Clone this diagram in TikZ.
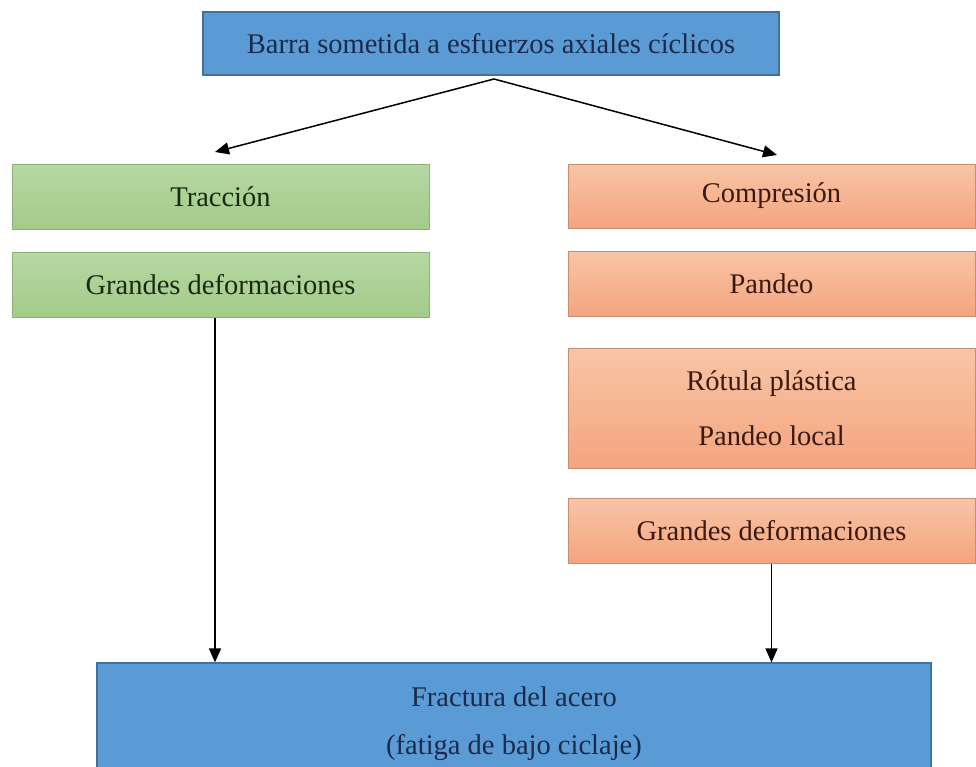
\documentclass[tikz,border=0pt]{standalone}
\usepackage{fontspec}
\setmainfont{Liberation Serif}
\usetikzlibrary{arrows.meta}
\definecolor{bluefill}{HTML}{5B9BD5}
\definecolor{blueline}{HTML}{41719C}
\definecolor{bluetext}{HTML}{1B2A4A}
\definecolor{greentop}{HTML}{B6D8A3}
\definecolor{greenbot}{HTML}{A2CB89}
\definecolor{greenline}{HTML}{8DB077}
\definecolor{greentext}{HTML}{1A2A12}
\definecolor{orangetop}{HTML}{F8C5A6}
\definecolor{orangebot}{HTML}{F4A47E}
\definecolor{orangeline}{HTML}{C98D70}
\definecolor{orangetext}{HTML}{3A1A10}
\begin{document}
\begin{tikzpicture}[x=1pt,y=1pt,
  txt/.style={font=\fontsize{28.5}{52}\selectfont, align=center, inner sep=0pt},
  bluebox/.style={txt, draw=blueline, line width=1.2pt, fill=bluefill, text=bluetext},
  greenbox/.style={txt, draw=greenline, line width=1pt, top color=greentop, bottom color=greenbot, text=greentext},
  orangebox/.style={txt, draw=orangeline, line width=1pt, top color=orangetop, bottom color=orangebot, text=orangetext},
  arr/.style={draw=black, line width=1.5pt, -{Triangle[length=14pt,width=12pt]}}]
\useasboundingbox (0,0) rectangle (976,-766);
\begin{scope}
\clip (0,0) rectangle (976,-766);
% top
\node[bluebox, minimum width=576, minimum height=63] (top) at (491,-43.5) {Barra sometida a esfuerzos axiales cíclicos};
% left column
\node[greenbox, minimum width=417, minimum height=65] (trac) at (220.5,-196.5) {Tracción};
\node[greenbox, minimum width=417, minimum height=65] (gdL) at (220.5,-284.5) {Grandes deformaciones};
% right column
\node[orangebox, minimum width=407, minimum height=64] (comp) at (771.5,-196) {Compresión};
\node[orangebox, minimum width=407, minimum height=65] (pand) at (771.5,-283.5) {Pandeo};
\node[orangebox, minimum width=407, minimum height=120, font=\fontsize{28.5}{55}\selectfont] (rot) at (771.5,-408) {Rótula plástica\\Pandeo local};
\node[orangebox, minimum width=407, minimum height=65] (gdR) at (771.5,-530.5) {Grandes deformaciones};
% bottom
\node[bluebox, minimum width=834, minimum height=122, font=\fontsize{28.5}{48}\selectfont] (frac) at (514,-724) {Fractura del acero\\(fatiga de bajo ciclaje)};
\end{scope}
% connectors
\coordinate (split) at (494,-79);
\coordinate (tipL) at (215,-152);
\coordinate (tipR) at (777,-155);
\coordinate (xL) at (215,0);
\draw[arr] (split) -- (tipL);
\draw[arr] (split) -- (tipR);
\draw[arr] (gdL.south -| xL) -- (frac.north -| xL);
\draw[arr] (gdR.south) -- (frac.north -| gdR.south);
\end{tikzpicture}
\end{document}
